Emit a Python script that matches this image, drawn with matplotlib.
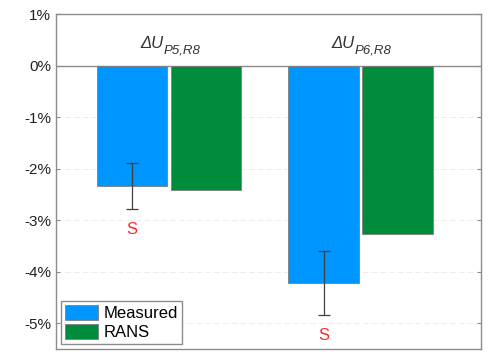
import matplotlib
matplotlib.use('Agg')
import matplotlib.pyplot as plt
import numpy as np

plt.rcParams['font.family'] = ['Liberation Sans', 'DejaVu Sans']

# values in percent
group_subs = ['P5,R8', 'P6,R8']
measured = [-2.34, -4.22]
measured_err = [0.45, 0.62]
rans = [-2.42, -3.27]
sig_labels = ['S', 'S']
yticks = [1, 0, -1, -2, -3, -4, -5]

blue = '#0096ff'
green = '#008c3a'
edge = '#7f7f7f'

fig = plt.figure(figsize=(4.9, 3.53), dpi=100)
ax = fig.add_axes([0.114, 0.0113, 0.868, 0.949])

x = np.arange(1, len(group_subs) + 1)
w = 0.366
off = 0.193

ax.bar(x - off, measured, w, color=blue, edgecolor=edge, linewidth=0.6,
       label='Measured', zorder=2)
ax.bar(x + off, rans, w, color=green, edgecolor=edge, linewidth=0.6,
       label='RANS', zorder=2)
ax.errorbar(x - off, measured, yerr=measured_err, fmt='none', ecolor='#404040',
            elinewidth=0.9, capsize=4.3, capthick=0.9, zorder=3)

for xi, m, e, s in zip(x - off, measured, measured_err, sig_labels):
    ax.text(xi, m - e - 0.39, s, color='#ff2a2a', fontsize=12,
            ha='center', va='center')

# group labels: italic delta-U with a dropped subscript
for xi, sub in zip(x, group_subs):
    ax.annotate('\u0394U', xy=(xi, 0.42), xytext=(-4, 0), textcoords='offset points',
                fontsize=12, style='italic', ha='right', va='center', color='#333333')
    ax.annotate(sub, xy=(xi, 0.42), xytext=(-4, -5), textcoords='offset points',
                fontsize=9.5, style='italic', ha='left', va='center', color='#333333')

ax.axhline(0, color='#8c8c8c', linewidth=1.0, zorder=1)

ax.set_xlim(0.41, 2.63)
ax.set_ylim(-5.5, 1)
ax.set_yticks(yticks)
ax.set_yticklabels(['%d%%' % t for t in yticks])
ax.set_xticks([])
ax.yaxis.grid(True, color='#ededed', linestyle=(0, (6, 3)), linewidth=0.7, zorder=0)
ax.set_axisbelow(True)
ax.tick_params(axis='y', direction='in', length=3, width=0.8, color='#8c8c8c',
               labelsize=11, right=True, labelcolor='#222222')
for sp in ax.spines.values():
    sp.set_color('#8c8c8c')
    sp.set_linewidth(1.0)

leg = ax.legend(loc='lower left', fontsize=12, frameon=True, fancybox=False,
                edgecolor='#8c8c8c', framealpha=1, handlelength=2.0,
                handleheight=1.0, labelspacing=0.15, borderpad=0.25,
                handletextpad=0.3, borderaxespad=0.3)
leg.get_frame().set_linewidth(1.0)

fig.savefig('out.png', dpi=100)
